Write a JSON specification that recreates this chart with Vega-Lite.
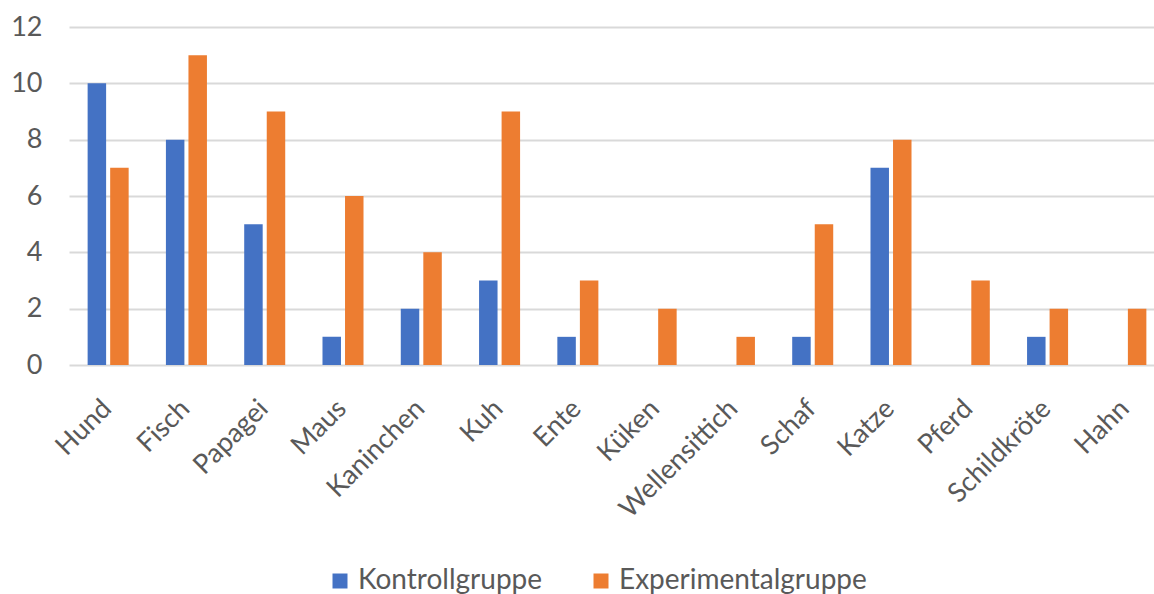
{
  "$schema": "https://vega.github.io/schema/vega-lite/v6.json",
  "width": 1085,
  "height": 338,
  "autosize": "none",
  "padding": {"left": 69, "top": 27, "right": 0, "bottom": 229},
  "background": "white",
  "config": {
    "font": "Lato",
    "view": {"stroke": null},
    "axis": {"labelFont": "Lato", "labelColor": "#595959", "labelFontSize": 27}
  },
  "data": {
    "values": [
      {"tier": "Hund", "gruppe": "Kontrollgruppe", "anzahl": 10},
      {"tier": "Hund", "gruppe": "Experimentalgruppe", "anzahl": 7},
      {"tier": "Fisch", "gruppe": "Kontrollgruppe", "anzahl": 8},
      {"tier": "Fisch", "gruppe": "Experimentalgruppe", "anzahl": 11},
      {"tier": "Papagei", "gruppe": "Kontrollgruppe", "anzahl": 5},
      {"tier": "Papagei", "gruppe": "Experimentalgruppe", "anzahl": 9},
      {"tier": "Maus", "gruppe": "Kontrollgruppe", "anzahl": 1},
      {"tier": "Maus", "gruppe": "Experimentalgruppe", "anzahl": 6},
      {"tier": "Kaninchen", "gruppe": "Kontrollgruppe", "anzahl": 2},
      {"tier": "Kaninchen", "gruppe": "Experimentalgruppe", "anzahl": 4},
      {"tier": "Kuh", "gruppe": "Kontrollgruppe", "anzahl": 3},
      {"tier": "Kuh", "gruppe": "Experimentalgruppe", "anzahl": 9},
      {"tier": "Ente", "gruppe": "Kontrollgruppe", "anzahl": 1},
      {"tier": "Ente", "gruppe": "Experimentalgruppe", "anzahl": 3},
      {"tier": "Küken", "gruppe": "Kontrollgruppe", "anzahl": 0},
      {"tier": "Küken", "gruppe": "Experimentalgruppe", "anzahl": 2},
      {"tier": "Wellensittich", "gruppe": "Kontrollgruppe", "anzahl": 0},
      {"tier": "Wellensittich", "gruppe": "Experimentalgruppe", "anzahl": 1},
      {"tier": "Schaf", "gruppe": "Kontrollgruppe", "anzahl": 1},
      {"tier": "Schaf", "gruppe": "Experimentalgruppe", "anzahl": 5},
      {"tier": "Katze", "gruppe": "Kontrollgruppe", "anzahl": 7},
      {"tier": "Katze", "gruppe": "Experimentalgruppe", "anzahl": 8},
      {"tier": "Pferd", "gruppe": "Kontrollgruppe", "anzahl": 0},
      {"tier": "Pferd", "gruppe": "Experimentalgruppe", "anzahl": 3},
      {"tier": "Schildkröte", "gruppe": "Kontrollgruppe", "anzahl": 1},
      {"tier": "Schildkröte", "gruppe": "Experimentalgruppe", "anzahl": 2},
      {"tier": "Hahn", "gruppe": "Kontrollgruppe", "anzahl": 0},
      {"tier": "Hahn", "gruppe": "Experimentalgruppe", "anzahl": 2}
    ]
  },
  "mark": {"type": "bar"},
  "encoding": {
    "x": {
      "field": "tier",
      "type": "nominal",
      "sort": null,
      "title": null,
      "scale": {"range": [0, 1096], "paddingInner": 0.476, "paddingOuter": 0.238},
      "axis": {
        "domain": false,
        "ticks": false,
        "tickSize": 0,
        "labelAngle": -45,
        "labelAlign": "right",
        "labelBaseline": "top",
        "labelPadding": 30,
        "labelOffset": -10,
        "labelLimit": 400
      }
    },
    "xOffset": {
      "field": "gruppe",
      "type": "nominal",
      "sort": ["Kontrollgruppe", "Experimentalgruppe"],
      "scale": {"paddingInner": 0.18, "paddingOuter": 0}
    },
    "y": {
      "field": "anzahl",
      "type": "quantitative",
      "title": null,
      "scale": {"domain": [0, 12], "nice": false},
      "axis": {
        "values": [0, 2, 4, 6, 8, 10, 12],
        "domain": false,
        "ticks": false,
        "tickSize": 0,
        "labelPadding": 27,
        "gridColor": "#d9d9d9",
        "gridWidth": 2
      }
    },
    "color": {
      "field": "gruppe",
      "type": "nominal",
      "sort": ["Kontrollgruppe", "Experimentalgruppe"],
      "scale": {"domain": ["Kontrollgruppe", "Experimentalgruppe"], "range": ["#4472C4", "#ED7D31"]},
      "legend": {
        "title": null,
        "orient": "none",
        "direction": "horizontal",
        "legendX": 257,
        "legendY": 540,
        "padding": 0,
        "symbolType": "square",
        "symbolSize": 225,
        "symbolStrokeWidth": 0,
        "labelFont": "Lato",
        "labelFontSize": 28,
        "labelColor": "#595959",
        "labelOffset": 4,
        "labelLimit": 400,
        "columnPadding": 44
      }
    }
  }
}
